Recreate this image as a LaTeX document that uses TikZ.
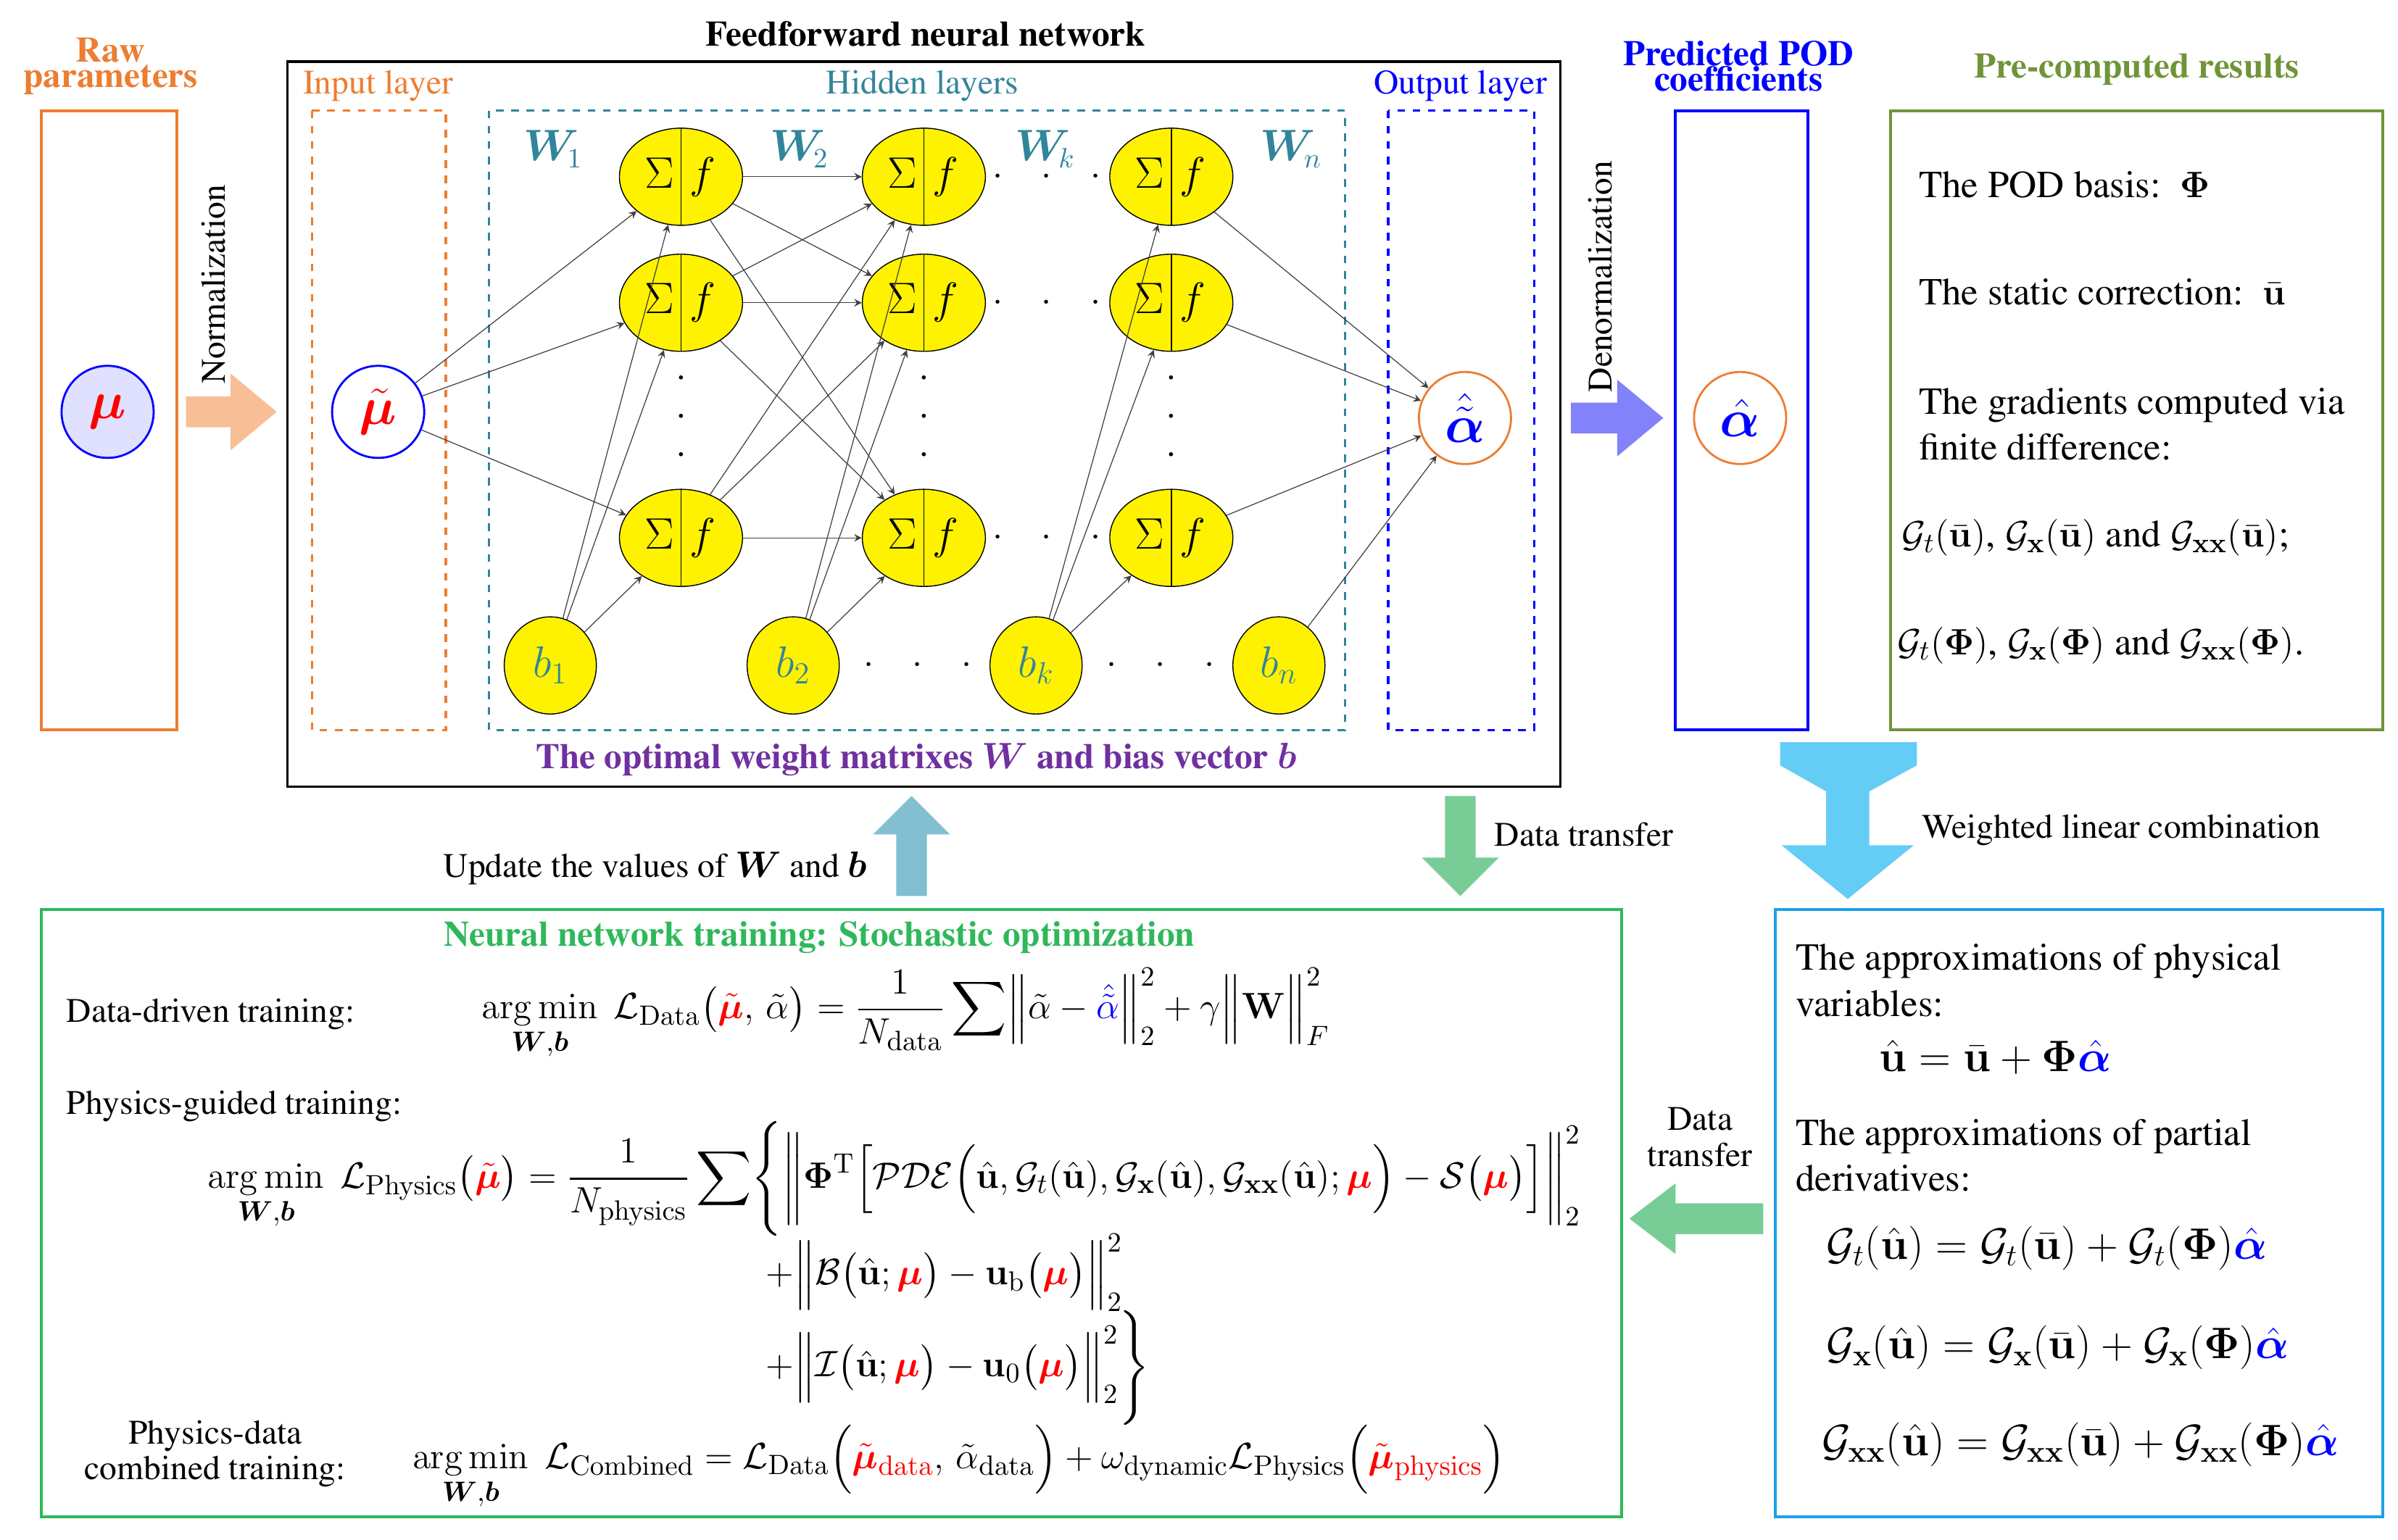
\documentclass[tikz,border=0pt]{standalone}
\usepackage[T1]{fontenc}
\usepackage{times}
\usepackage{amsmath}
\usepackage{amssymb}
\usepackage{bm}
\usepackage{xcolor}
\usepackage{tikz}
\usetikzlibrary{shapes.geometric}
\usetikzlibrary{arrows}
\definecolor{rawor}{RGB}{237,125,49}
\definecolor{hidteal}{RGB}{49,133,155}
\definecolor{olivegr}{RGB}{112,148,56}
\definecolor{traingr}{RGB}{46,184,90}
\definecolor{approxbl}{RGB}{30,160,230}
\definecolor{optpurple}{RGB}{112,48,160}
\definecolor{cyanarr}{RGB}{100,205,245}
\definecolor{greenarr}{RGB}{120,205,150}
\definecolor{updarr}{RGB}{130,190,210}
\definecolor{normarr}{RGB}{248,190,150}
\definecolor{denormarr}{RGB}{130,130,250}
\tikzset{
	every node/.style={font=\rmfamily\fontsize{13.5}{16}\selectfont},
	main node/.style={circle,draw,minimum size=1.27cm,inner sep=0pt,line width=0.8pt,font=\fontsize{20}{20}\selectfont},
	neuron/.style={ellipse,draw,fill=yellow,minimum width=1.27cm,minimum height=1.34cm,inner sep=0pt,font=\fontsize{17}{17}\selectfont,
		path picture={\draw (path picture bounding box.north) -- (path picture bounding box.south);}},
	bias/.style={ellipse,draw,fill=yellow,minimum width=1.27cm,minimum height=1.34cm,inner sep=0pt,text=hidteal,font=\fontsize{17}{17}\selectfont},
	wlabel/.style={text=hidteal,font=\fontsize{16}{16}\selectfont},
	vdots/.style={font=\Large},
	txt/.style={anchor=west,inner sep=0pt},
	eq/.style={anchor=west,inner sep=0pt,font=\rmfamily\fontsize{15}{18}\selectfont},
	head/.style={font=\rmfamily\bfseries\fontsize{14}{13}\selectfont},
	link/.style={->,>=stealth,draw=black!75,line width=0.35pt}
}
\newcommand{\nsf}{\makebox[0.6cm]{$\Sigma$}\makebox[0.6cm]{$f$}}
\newcommand{\rowdots}{$\cdot\;\;\;\cdot\;\;\;\cdot$}
\begin{document}
\begin{tikzpicture}[x=0.0212cm,y=-0.0212cm]
\useasboundingbox (0,0) rectangle (1560,1002);

% raw parameters
\node[head,text=rawor,align=center] (rawtitle) at (72,43) {Raw\\[-3pt]parameters};
\draw[rawor,line width=1.2pt] (27,72) rectangle (115,475);
\node[main node,draw=blue,fill=blue!12] (mu) at (70,268) {$\textcolor{red}{\bm\mu}$};
\fill[normarr] (121,258) -- (150,258) -- (150,243) -- (180,268) -- (150,293) -- (150,278) -- (121,278) -- cycle;
\node[rotate=90] (normtxt) at (139,185) {Normalization};

% feedforward network
\draw[line width=1pt] (187,40) rectangle (1015,512);
\node[head] (fftitle) at (602,22) {Feedforward neural network};
\node[text=rawor] (inlay) at (246,56) {Input layer};
\draw[rawor,dashed,line width=1pt] (203,72) rectangle (290,475);
\node[text=hidteal] (hidlay) at (600,56) {Hidden layers};
\draw[hidteal,dashed,line width=1pt] (318,72) rectangle (875,475);
\node[text=blue] (outlay) at (950,56) {Output layer};
\draw[blue,dashed,line width=1pt] (903,72) rectangle (998,475);
\node[main node,draw=blue] (mut) at (246,268) {$\textcolor{red}{\tilde{\bm\mu}}$};
\node[main node,draw=rawor] (alt) at (953,272) {$\textcolor{blue}{\hat{\tilde{\bm\alpha}}}$};

% neurons
\foreach \c/\x in {1/443,2/601,3/762}{
	\foreach \r/\y in {1/115,2/197,3/350}
		\node[neuron] (n\c\r) at (\x,\y) {\nsf};
	\foreach \y in {246,271,296}
		\node[vdots] at (\x,\y) {.};
}
\node[bias] (b1) at (358,433) {$b_1$};
\node[bias] (b2) at (516,433) {$b_2$};
\node[bias] (bk) at (674,433) {$b_k$};
\node[bias] (bn) at (832,433) {$b_n$};
\node (bdots1) at (597,433) {\rowdots};
\node (bdots2) at (755,433) {\rowdots};
\foreach \y in {115,197,350}
	\node at (681,\y) {\rowdots};
\node[wlabel] (w1) at (360,97) {$\bm W_{\!1}$};
\node[wlabel] (w2) at (520,97) {$\bm W_{\!2}$};
\node[wlabel] (wk) at (680,97) {$\bm W_{\!k}$};
\node[wlabel] (wn) at (840,97) {$\bm W_{\!n}$};

% connections
\foreach \r in {1,2,3}{
	\draw[link] (mut) -- (n1\r);
	\draw[link] (b1) -- (n1\r);
	\draw[link] (b2) -- (n2\r);
	\draw[link] (bk) -- (n3\r);
	\draw[link] (n3\r) -- (alt);
	\foreach \s in {1,2,3}
		\draw[link] (n1\r) -- (n2\s);
}
\draw[link] (bn) -- (alt);
\node[head,text=optpurple] (opt) at (596,494) {The optimal weight matrixes $\bm W$ and bias vector $\bm b$};

% denormalization and POD coefficients
\fill[denormarr] (1022,262) -- (1052,262) -- (1052,247) -- (1082,272) -- (1052,297) -- (1052,282) -- (1022,282) -- cycle;
\node[rotate=90] (denorm) at (1041,180) {Denormalization};
\node[head,text=blue,align=center] (podtitle) at (1131,43) {Predicted POD\\[-3pt]coefficients};
\draw[blue,line width=1.2pt] (1090,72) rectangle (1176,475);
\node[main node,draw=rawor] (alh) at (1132,272) {$\textcolor{blue}{\hat{\bm\alpha}}$};

% pre-computed results
\node[head,text=olivegr] (pretitle) at (1390,45) {Pre-computed results};
\draw[olivegr,line width=1.2pt] (1230,72) rectangle (1550,475);
\node[eq] (pod) at (1248,120) {The POD basis:\ \ $\bm\Phi$};
\node[eq] (stc) at (1248,190) {The static correction:\ \ $\bar{\mathbf u}$};
\node[eq,align=left] (grad) at (1248,276) {The gradients computed via\\finite difference:};
\node[eq] (gu) at (1237,350) {$\mathcal G_t(\bar{\mathbf u})$, $\mathcal G_{\mathbf x}(\bar{\mathbf u})$ and $\mathcal G_{\mathbf{xx}}(\bar{\mathbf u})$;};
\node[eq] (gphi) at (1234,420) {$\mathcal G_t(\bm\Phi)$, $\mathcal G_{\mathbf x}(\bm\Phi)$ and $\mathcal G_{\mathbf{xx}}(\bm\Phi)$.};

% transfer arrows
\fill[cyanarr] (1158,483) -- (1247,483) -- (1247,498) -- (1216,515) -- (1216,550) -- (1245,550) -- (1202,585) -- (1159,550) -- (1188,550) -- (1188,515) -- (1158,498) -- cycle;
\node[txt] (wlc) at (1250,540) {Weighted linear combination};
\fill[greenarr] (940,518) -- (960,518) -- (960,558) -- (975,558) -- (950,583) -- (925,558) -- (940,558) -- cycle;
\node[txt] (dt1) at (972,543) {Data transfer};
\fill[updarr] (583,583) -- (603,583) -- (603,543) -- (618,543) -- (593,518) -- (568,543) -- (583,543) -- cycle;
\node[anchor=east] (upd) at (570,565) {Update the values of $\bm W$ and $\bm b$};
\fill[greenarr] (1147,783) -- (1090,783) -- (1090,770) -- (1060,793) -- (1090,816) -- (1090,803) -- (1147,803) -- cycle;
\node[align=center] (dt2) at (1106,740) {Data\\[-2pt]transfer};

% training box
\draw[traingr,line width=1.2pt] (27,592) rectangle (1055,987);
\node[head,text=traingr] (traintitle) at (533,610) {Neural network training: Stochastic optimization};
\node[txt] (ddt) at (43,660) {Data-driven training:};
\node[eq] (ddeq) at (313,660) {$\displaystyle\operatorname*{arg\,min}_{\bm W,\bm b}\ \mathcal L_{\mathrm{Data}}\bigl(\textcolor{red}{\tilde{\bm\mu}},\,\tilde\alpha\bigr)=\frac{1}{N_{\mathrm{data}}}\sum\Bigl\|\tilde\alpha-\textcolor{blue}{\hat{\tilde\alpha}}\Bigr\|_2^2+\gamma\Bigl\|\mathbf W\Bigr\|_F^2$};
\node[txt] (pgt) at (43,720) {Physics-guided training:};
\node[eq] (pgeq) at (135,767) {$\displaystyle\operatorname*{arg\,min}_{\bm W,\bm b}\ \mathcal L_{\mathrm{Physics}}\bigl(\textcolor{red}{\tilde{\bm\mu}}\bigr)=\frac{1}{N_{\mathrm{physics}}}\sum\Biggl\{\biggl\|\bm\Phi^{\mathrm T}\Bigl[\mathcal{PDE}\Bigl(\hat{\mathbf u},\mathcal G_t(\hat{\mathbf u}),\mathcal G_{\mathbf x}(\hat{\mathbf u}),\mathcal G_{\mathbf{xx}}(\hat{\mathbf u});\textcolor{red}{\bm\mu}\Bigr)-\mathcal S\bigl(\textcolor{red}{\bm\mu}\bigr)\Bigr]\biggr\|_2^2$};
\node[eq] (pgeq2) at (498,828) {$\displaystyle+\Bigl\|\mathcal B\bigl(\hat{\mathbf u};\textcolor{red}{\bm\mu}\bigr)-\mathbf u_{\mathrm b}\bigl(\textcolor{red}{\bm\mu}\bigr)\Bigr\|_2^2$};
\node[eq] (pgeq3) at (498,890) {$\displaystyle+\Bigl\|\mathcal I\bigl(\hat{\mathbf u};\textcolor{red}{\bm\mu}\bigr)-\mathbf u_{0}\bigl(\textcolor{red}{\bm\mu}\bigr)\Bigr\|_2^2\Biggr\}$};
\node[align=center] (pdt) at (140,946) {Physics-data\\[-2pt]combined training:};
\node[eq] (pdeq) at (268,955) {$\displaystyle\operatorname*{arg\,min}_{\bm W,\bm b}\ \mathcal L_{\mathrm{Combined}}=\mathcal L_{\mathrm{Data}}\Bigl(\textcolor{red}{\tilde{\bm\mu}_{\mathrm{data}}},\,\tilde\alpha_{\mathrm{data}}\Bigr)+\omega_{\mathrm{dynamic}}\mathcal L_{\mathrm{Physics}}\Bigl(\textcolor{red}{\tilde{\bm\mu}_{\mathrm{physics}}}\Bigr)$};

% approximations box
\draw[approxbl,line width=1.2pt] (1155,592) rectangle (1550,987);
\node[eq,align=left] (apv) at (1168,638) {The approximations of physical\\variables:};
\node[font=\fontsize{17}{17}\selectfont] (ueq) at (1298,688) {$\hat{\mathbf u}=\bar{\mathbf u}+\bm\Phi\textcolor{blue}{\hat{\bm\alpha}}$};
\node[eq,align=left] (apd) at (1168,752) {The approximations of partial\\derivatives:};
\node[eq,font=\fontsize{17}{17}\selectfont] (gteq) at (1188,812) {$\mathcal G_t(\hat{\mathbf u})=\mathcal G_t(\bar{\mathbf u})+\mathcal G_t(\bm\Phi)\textcolor{blue}{\hat{\bm\alpha}}$};
\node[eq,font=\fontsize{17}{17}\selectfont] (gxeq) at (1188,877) {$\mathcal G_{\mathbf x}(\hat{\mathbf u})=\mathcal G_{\mathbf x}(\bar{\mathbf u})+\mathcal G_{\mathbf x}(\bm\Phi)\textcolor{blue}{\hat{\bm\alpha}}$};
\node[eq,font=\fontsize{17}{17}\selectfont] (gxxeq) at (1185,940) {$\mathcal G_{\mathbf{xx}}(\hat{\mathbf u})=\mathcal G_{\mathbf{xx}}(\bar{\mathbf u})+\mathcal G_{\mathbf{xx}}(\bm\Phi)\textcolor{blue}{\hat{\bm\alpha}}$};
\end{tikzpicture}
\end{document}
